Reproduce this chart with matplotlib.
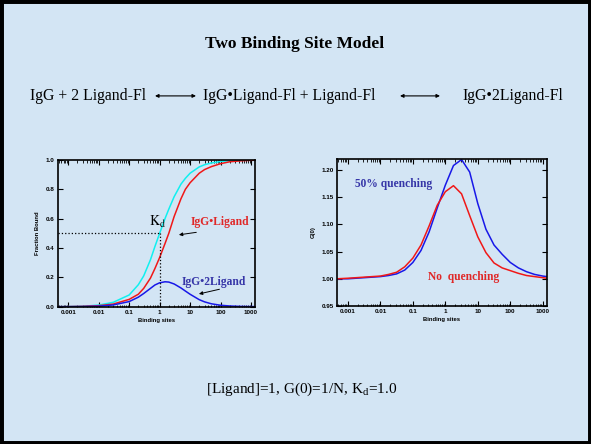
import numpy as np
import matplotlib
matplotlib.use('Agg')
import matplotlib.pyplot as plt
from matplotlib.patches import Rectangle

plt.rcParams['font.family'] = ['Liberation Serif', 'DejaVu Serif']
plt.rcParams['mathtext.fontset'] = 'stix'

# left panel: fraction bound vs binding sites
sites_left = [0.00046, 0.001, 0.003, 0.01, 0.03, 0.1, 0.2, 0.3, 0.5, 0.7, 1, 1.5, 2, 3,
              5, 7, 10, 20, 30, 50, 100, 200, 500, 1000, 1350]
total_bound = [0.0005, 0.001, 0.003, 0.011, 0.03, 0.08, 0.15, 0.21, 0.32, 0.41, 0.50, 0.60,
               0.665, 0.75, 0.835, 0.875, 0.91, 0.953, 0.968, 0.98, 0.99, 0.995, 0.998, 0.999, 0.999]
igg_ligand = [0.0004, 0.0008, 0.0025, 0.007, 0.018, 0.05, 0.085, 0.125, 0.195, 0.26, 0.335, 0.43,
              0.50, 0.615, 0.735, 0.80, 0.845, 0.91, 0.935, 0.955, 0.975, 0.988, 0.995, 0.998, 0.999]
igg_2ligand = [0.0002, 0.0004, 0.0012, 0.004, 0.012, 0.035, 0.065, 0.09, 0.125, 0.148, 0.163, 0.17,
               0.168, 0.155, 0.128, 0.107, 0.085, 0.048, 0.033, 0.02, 0.01, 0.005, 0.002, 0.001, 0.001]

# right panel: G(0) vs binding sites
sites_right = [0.00046, 0.001, 0.00178, 0.00316, 0.00562, 0.01, 0.0178, 0.0316, 0.0562, 0.1,
               0.178, 0.316, 0.562, 1, 1.78, 3.16, 5.62, 10, 17.8, 31.6, 56.2, 100, 178, 316,
               562, 1000, 1350]
g0_no_quench = [1.000, 1.001, 1.002, 1.003, 1.004, 1.005, 1.008, 1.012, 1.022, 1.038, 1.062, 1.097,
                1.135, 1.160, 1.171, 1.156, 1.116, 1.077, 1.048, 1.029, 1.020, 1.015, 1.010, 1.006,
                1.004, 1.002, 1.001]
g0_quench = [1.000, 1.000, 1.001, 1.002, 1.003, 1.004, 1.006, 1.009, 1.016, 1.030, 1.052, 1.086,
             1.130, 1.172, 1.208, 1.219, 1.196, 1.138, 1.091, 1.062, 1.045, 1.030, 1.020, 1.013,
             1.008, 1.005, 1.004]

xticks = [0.001, 0.01, 0.1, 1, 10, 100, 1000]
xticklabels = ['0.001', '0.01', '0.1', '1', '10', '100', '1000']

bg = '#d3e5f4'
dark_blue = '#3636a8'
red_txt = '#e02828'

fig = plt.figure(figsize=(5.91, 4.44), dpi=100, facecolor=bg)

# overlay for slide text and frame
ax0 = fig.add_axes([0, 0, 1, 1])
ax0.axis('off')
ax0.set_xlim(0, 1)
ax0.set_ylim(0, 1)
ax0.add_patch(Rectangle((0, 0), 1, 1, fill=False, edgecolor='black', lw=5, clip_on=False))

ax0.text(0.499, 0.901, 'Two Binding Site Model', ha='center', va='center',
         fontsize=12.5, fontweight='bold')

eq_y = 0.784
ax0.text(0.051, eq_y, 'IgG + 2 Ligand-Fl', ha='left', va='center', fontsize=11.3)
ax0.text(0.343, eq_y, 'IgG\u2022Ligand-Fl + Ligand-Fl', ha='left', va='center', fontsize=11.3)
ax0.text(0.783, eq_y, 'IgG\u20222Ligand-Fl', ha='left', va='center', fontsize=11.3)
for x0, x1 in [(155, 196), (400, 440)]:
    ax0.annotate('', xy=(x1 / 591, eq_y), xytext=(x0 / 591, eq_y),
                 arrowprops=dict(arrowstyle='<|-|>', lw=0.8, color='black',
                                 mutation_scale=5, shrinkA=0, shrinkB=0))

ax0.text(0.51, 0.124, r'[Ligand]=1, G(0)=1/N, K$_\mathregular{d}$=1.0', ha='center', va='center',
         fontsize=11)


def style_axes(ax):
    ax.set_facecolor('none')
    ax.set_xscale('log')
    ax.set_xlim(0.00046, 1350)
    ax.set_xticks(xticks)
    ax.set_xticklabels(xticklabels)
    ax.tick_params(which='both', direction='in', top=True, right=True)
    ax.tick_params(which='major', length=3.5, width=0.8, labelsize=4.5, pad=2.5)
    ax.tick_params(which='minor', length=1.8, width=0.6)
    for lab in ax.get_xticklabels() + ax.get_yticklabels():
        lab.set_family('Liberation Sans')
        lab.set_fontweight('bold')
    for s in ax.spines.values():
        s.set_linewidth(1.2)
    ax.set_xlabel('Binding sites', family='Liberation Sans', fontweight='bold', fontsize=4.2,
                  labelpad=2)


# left chart
ax1 = fig.add_axes([0.0981, 0.3092, 0.3333, 0.3304])
ax1.plot(sites_left, total_bound, color='#10f0f0', lw=1.1)
ax1.plot(sites_left, igg_ligand, color='#f01818', lw=1.1)
ax1.plot(sites_left, igg_2ligand, color='#1818e8', lw=1.1)
ax1.plot([0.00046, 1], [0.5, 0.5], color='black', ls=':', lw=0.9)
ax1.plot([1, 1], [0, 0.5], color='black', ls=':', lw=0.9)
ax1.set_ylim(0, 1.0)
ax1.set_yticks([0, 0.2, 0.4, 0.6, 0.8, 1.0])
ax1.set_yticklabels(['0.0', '0.2', '0.4', '0.6', '0.8', '1.0'])
style_axes(ax1)
ax1.set_ylabel('Fraction Bound', family='Liberation Sans', fontweight='bold', fontsize=4.2,
               labelpad=4)
ax1.text(0.88, 0.575, r'$\mathrm{K_d}$', ha='center', va='center', fontsize=10)
ax1.text(95, 0.58, 'IgG\u2022Ligand', color=red_txt, fontweight='bold', fontsize=8.3,
         ha='center', va='center')
ax1.annotate('', xy=(4.3, 0.49), xytext=(16, 0.507),
             arrowprops=dict(arrowstyle='-|>', color='black', lw=0.7, mutation_scale=5,
                             shrinkA=0, shrinkB=0))
ax1.text(60, 0.17, 'IgG\u20222Ligand', color=dark_blue, fontweight='bold', fontsize=8.3,
         ha='center', va='center')
ax1.annotate('', xy=(19.5, 0.087), xytext=(92, 0.119),
             arrowprops=dict(arrowstyle='-|>', color='black', lw=0.7, mutation_scale=5,
                             shrinkA=0, shrinkB=0))

# right chart
ax2 = fig.add_axes([0.5702, 0.3108, 0.3553, 0.3311])
ax2.plot(sites_right, g0_quench, color='#1818e8', lw=1.1)
ax2.plot(sites_right, g0_no_quench, color='#f01818', lw=1.1)
ax2.set_ylim(0.95, 1.22)
ax2.set_yticks([0.95, 1.00, 1.05, 1.10, 1.15, 1.20])
ax2.set_yticklabels(['0.95', '1.00', '1.05', '1.10', '1.15', '1.20'])
style_axes(ax2)
ax2.set_ylabel('G(0)', family='Liberation Sans', fontweight='bold', fontsize=4.2, labelpad=4)
ax2.text(0.0016, 1.174, '50% quenching', color=dark_blue, fontweight='bold', fontsize=8.3,
         ha='left', va='center')
ax2.text(0.30, 1.004, 'No  quenching', color=red_txt, fontweight='bold', fontsize=8.3,
         ha='left', va='center')

fig.savefig('out.png', dpi=100, facecolor=bg)
